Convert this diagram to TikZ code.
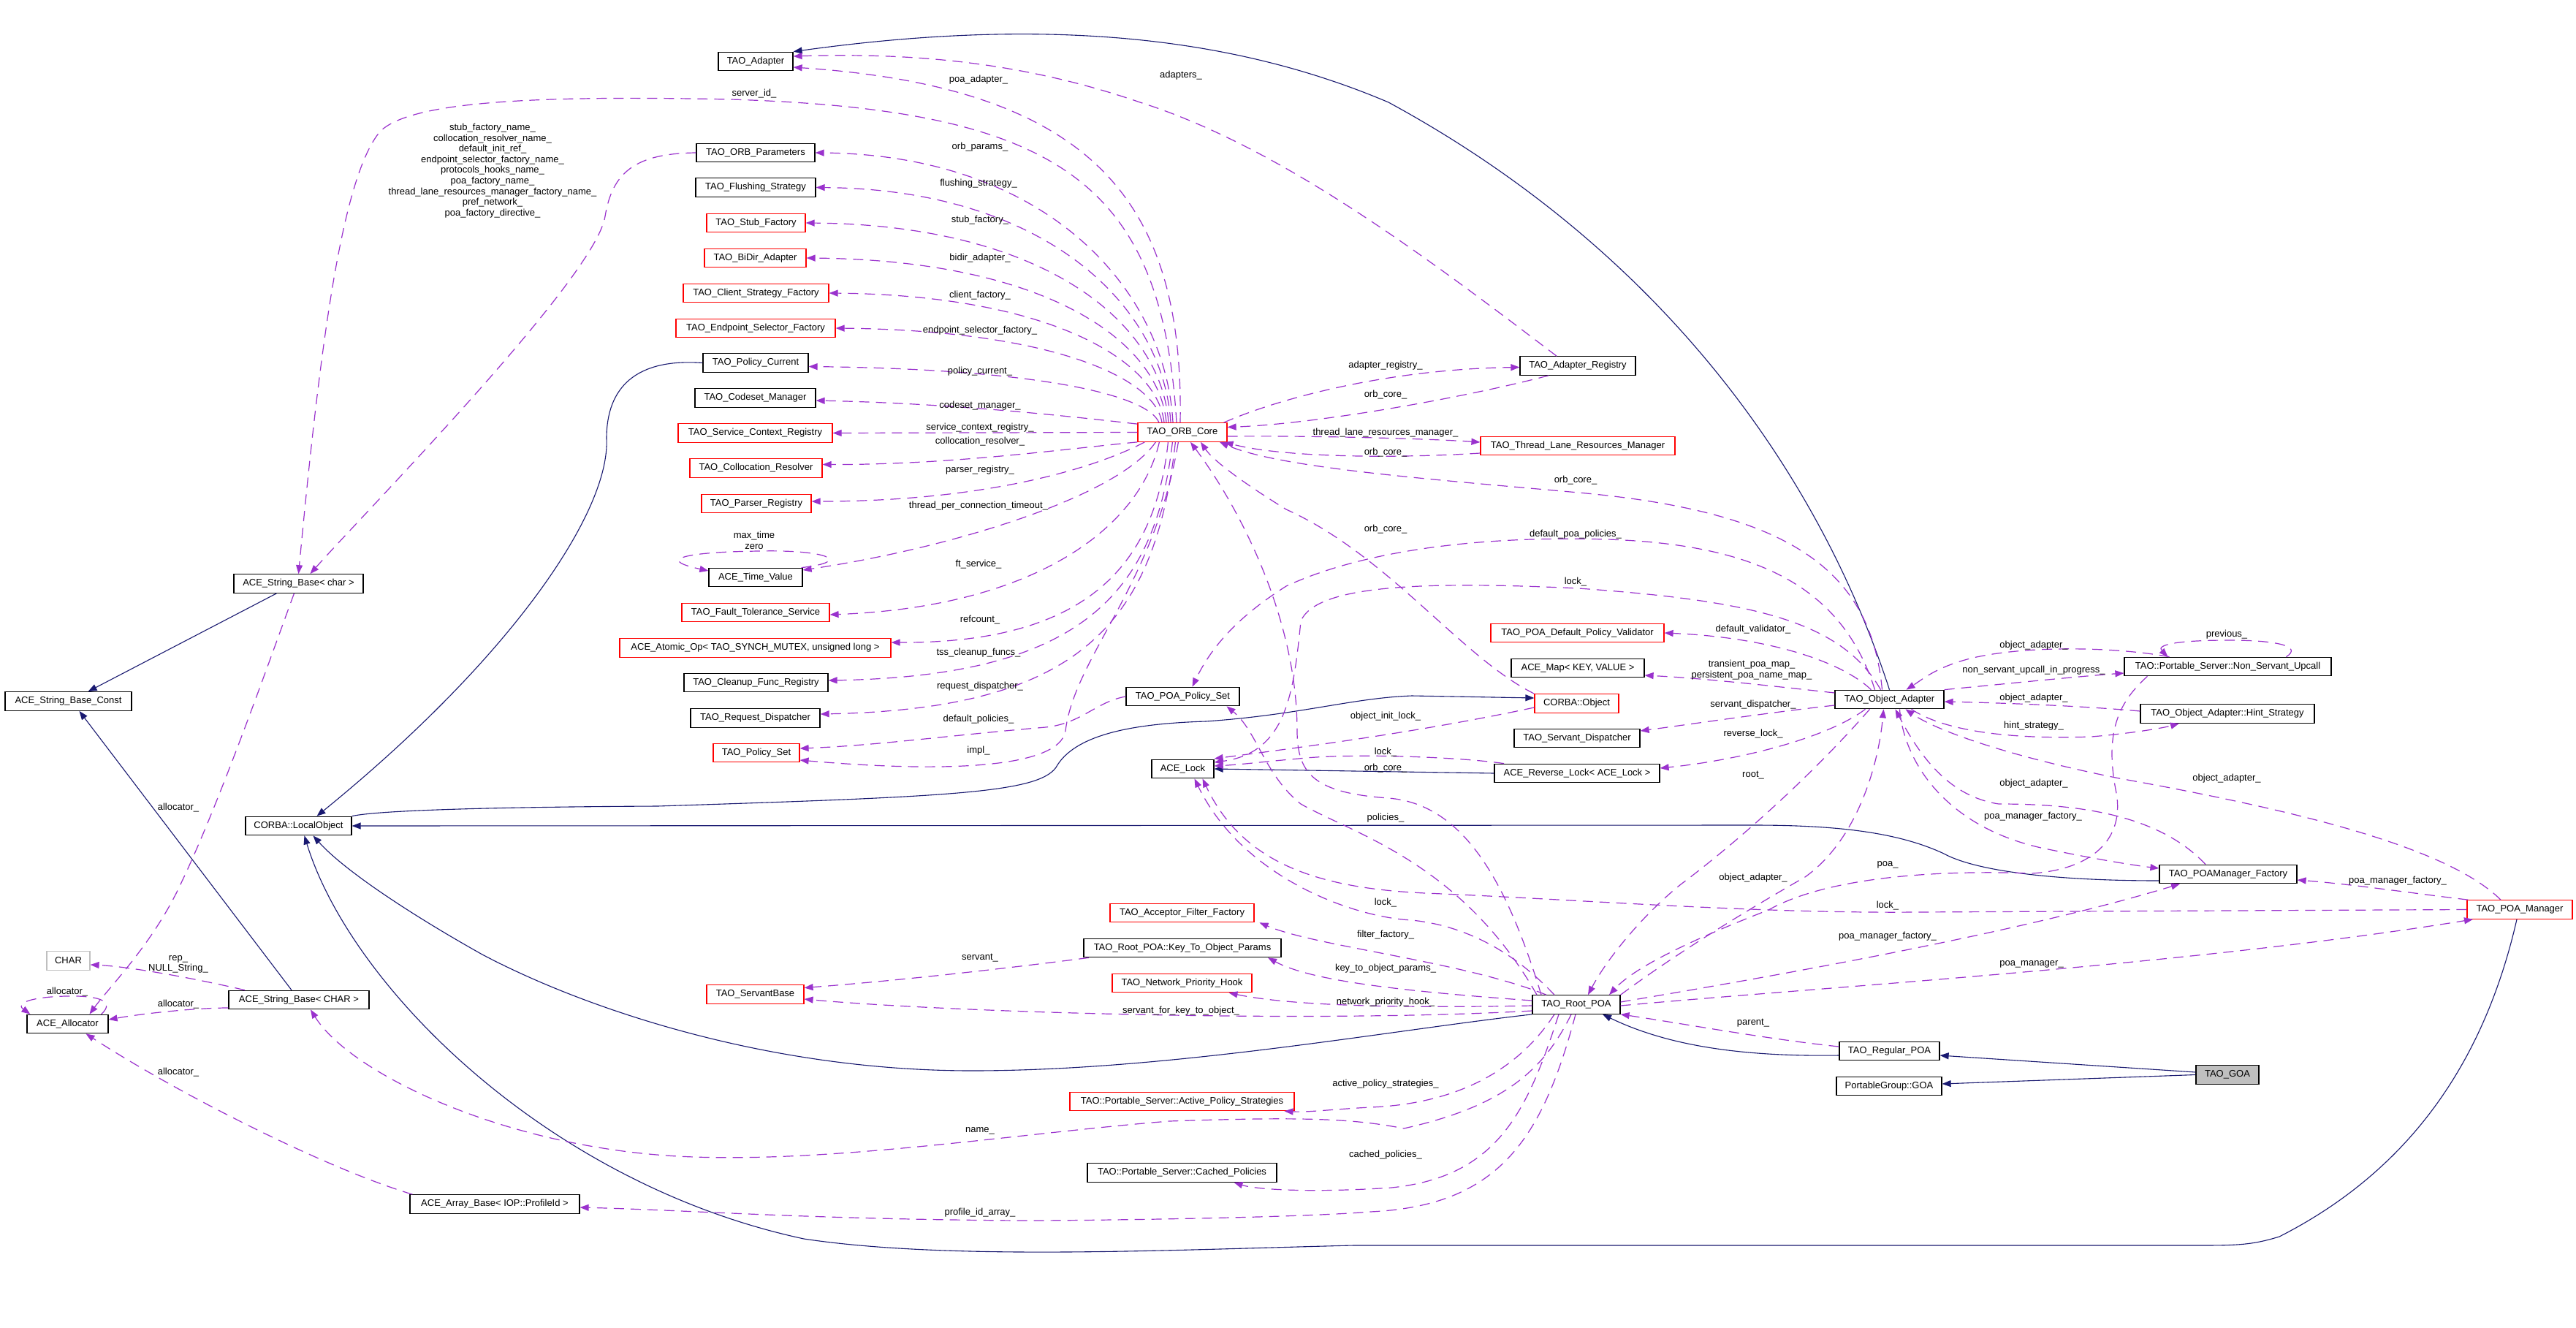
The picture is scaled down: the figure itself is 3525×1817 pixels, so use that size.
\documentclass[tikz,border=0pt]{standalone}
\usepackage{fontspec}
\setmainfont{Liberation Sans}
\usetikzlibrary{arrows.meta}
\definecolor{usecol}{HTML}{9A32CD}
\definecolor{inhcol}{HTML}{191970}
\definecolor{graybox}{HTML}{BFBFBF}
\newcommand{\lblf}{\fontsize{13pt}{14.6pt}\selectfont}
\begin{document}
\begin{tikzpicture}[x=1pt,y=-1pt,
  cls/.style={draw=black, line width=1.2pt, inner sep=0pt, minimum height=25.5pt, font=\lblf, text=black},
  rcls/.style={cls, draw=red},
  gcls/.style={cls, draw=graybox},
  lab/.style={font=\lblf, inner sep=0pt, align=center, text=black},
  usee/.style={draw=usecol, line width=1.2pt, dash pattern=on 14pt off 9pt, -{Triangle[length=12pt,width=9pt]}},
  inh/.style={draw=inhcol, line width=1.1pt, -{Triangle[length=12pt,width=9pt]}}]
\fill[white] (0,0) rectangle (3525,1817);
\useasboundingbox (0,0) rectangle (3525,1817);
% ---------- nodes ----------
\node[cls, minimum width=102pt] (adapter) at (1034,84) {TAO\_Adapter};
\node[cls, minimum width=162pt] (orbparams) at (1034,209) {TAO\_ORB\_Parameters};
\node[cls, minimum width=164pt] (flush) at (1034,256.5) {TAO\_Flushing\_Strategy};
\node[rcls, minimum width=135pt] (stubf) at (1034.5,305) {TAO\_Stub\_Factory};
\node[rcls, minimum width=139pt] (bidir) at (1033.5,353) {TAO\_BiDir\_Adapter};
\node[rcls, minimum width=199pt] (clientsf) at (1034.5,401) {TAO\_Client\_Strategy\_Factory};
\node[rcls, minimum width=218pt] (endpsf) at (1034,449) {TAO\_Endpoint\_Selector\_Factory};
\node[cls, minimum width=144pt] (polcur) at (1034,496.5) {TAO\_Policy\_Current};
\node[cls, minimum width=165pt] (codeset) at (1033.5,544.5) {TAO\_Codeset\_Manager};
\node[rcls, minimum width=211pt] (scr) at (1033.5,592.5) {TAO\_Service\_Context\_Registry};
\node[rcls, minimum width=181pt] (collres) at (1034.5,640.5) {TAO\_Collocation\_Resolver};
\node[rcls, minimum width=150pt] (parser) at (1035,689) {TAO\_Parser\_Registry};
\node[cls, minimum width=128pt] (timev) at (1034,790) {ACE\_Time\_Value};
\node[rcls, minimum width=202pt] (fts) at (1034,838) {TAO\_Fault\_Tolerance\_Service};
\node[rcls, minimum width=371pt] (atomic) at (1033.5,886.5) {ACE\_Atomic\_Op< TAO\_SYNCH\_MUTEX, unsigned long >};
\node[cls, minimum width=197pt] (cleanup) at (1034.5,934) {TAO\_Cleanup\_Func\_Registry};
\node[cls, minimum width=177pt] (reqdisp) at (1033.5,982.5) {TAO\_Request\_Dispatcher};
\node[rcls, minimum width=118pt] (polset) at (1035,1030) {TAO\_Policy\_Set};
\node[cls, minimum width=177pt] (sbchar) at (408.5,798.5) {ACE\_String\_Base< char >};
\node[cls, minimum width=173pt] (sbconst) at (93.5,959.5) {ACE\_String\_Base\_Const};
\node[cls, minimum width=145pt] (localobj) at (408.5,1130) {CORBA::LocalObject};
\node[gcls, minimum width=59pt] (charn) at (93.5,1314.5) {CHAR};
\node[cls, minimum width=111pt] (alloc) at (92.5,1401) {ACE\_Allocator};
\node[cls, minimum width=192pt] (sbCHAR) at (409,1368) {ACE\_String\_Base< CHAR >};
\node[cls, minimum width=232pt] (arrbase) at (677,1647.5) {ACE\_Array\_Base< IOP::ProfileId >};
\node[rcls, minimum width=122pt] (orbcore) at (1618,591.5) {TAO\_ORB\_Core};
\node[cls, minimum width=155pt] (poapolset) at (1618.5,953) {TAO\_POA\_Policy\_Set};
\node[cls, minimum width=85pt] (acelock) at (1618.5,1052) {ACE\_Lock};
\node[rcls, minimum width=197pt] (acceptff) at (1617.5,1249) {TAO\_Acceptor\_Filter\_Factory};
\node[cls, minimum width=270pt] (k2o) at (1618,1297) {TAO\_Root\_POA::Key\_To\_Object\_Params};
\node[rcls, minimum width=191pt] (nph) at (1617.5,1345) {TAO\_Network\_Priority\_Hook};
\node[rcls, minimum width=133pt] (servantbase) at (1033.5,1360.5) {TAO\_ServantBase};
\node[rcls, minimum width=307pt] (aps) at (1617.5,1507) {TAO::Portable\_Server::Active\_Policy\_Strategies};
\node[cls, minimum width=259pt] (cached) at (1617.5,1604.5) {TAO::Portable\_Server::Cached\_Policies};
\node[cls, minimum width=158pt] (adreg) at (2159,500.5) {TAO\_Adapter\_Registry};
\node[rcls, minimum width=266pt] (tlrm) at (2159,610) {TAO\_Thread\_Lane\_Resources\_Manager};
\node[rcls, minimum width=237pt] (pdpv) at (2158.5,866) {TAO\_POA\_Default\_Policy\_Validator};
\node[cls, minimum width=182pt] (acemap) at (2159,914) {ACE\_Map< KEY, VALUE >};
\node[rcls, minimum width=115pt] (corbaobj) at (2157.5,962.5) {CORBA::Object};
\node[cls, minimum width=172pt] (servdisp) at (2158,1010) {TAO\_Servant\_Dispatcher};
\node[cls, minimum width=226pt] (revlock) at (2158,1058) {ACE\_Reverse\_Lock< ACE\_Lock >};
\node[cls, minimum width=120pt] (rootpoa) at (2157,1374.5) {TAO\_Root\_POA};
\node[cls, minimum width=149pt] (objadapter) at (2585.5,957) {TAO\_Object\_Adapter};
\node[cls, minimum width=283pt] (nsu) at (3048.5,912) {TAO::Portable\_Server::Non\_Servant\_Upcall};
\node[cls, minimum width=238pt] (hint) at (3048,976.5) {TAO\_Object\_Adapter::Hint\_Strategy};
\node[cls, minimum width=188pt] (poamf) at (3049,1196) {TAO\_POAManager\_Factory};
\node[rcls, minimum width=144pt] (poamgr) at (3448,1244.5) {TAO\_POA\_Manager};
\node[cls, minimum width=137pt] (regpoa) at (2585.5,1438) {TAO\_Regular\_POA};
\node[cls, minimum width=144pt] (pggoa) at (2585,1486) {PortableGroup::GOA};
\node[cls, minimum width=86pt, fill=graybox] (taogoa) at (3048,1470.5) {TAO\_GOA};
% ---------- inheritance ----------
\draw[inh] (objadapter.north) .. controls (2480,620) and (2250,330) .. (1900,140) .. controls (1700,55) and (1450,20) .. (adapter.north east);
\draw[inh] (polcur.west) .. controls (870,490) and (830,530) .. (830,600) .. controls (835,700) and (700,900) .. ([xshift=25pt]localobj.north);
\draw[inh] ([xshift=-30pt]sbchar.south) -- ([xshift=27pt]sbconst.north);
\draw[inh] ([xshift=-10pt]sbCHAR.north) -- ([xshift=15pt]sbconst.south);
\draw[inh] (localobj.north east) .. controls (520,1108) and (700,1104) .. (900,1103) .. controls (1300,1090) and (1420,1085) .. (1445,1050) .. controls (1470,1005) and (1550,990) .. (1650,987) .. controls (1780,978) and (1850,955) .. (1932,952) -- ([yshift=7.5pt]corbaobj.west);
\draw[inh] ([yshift=-9pt]poamf.west) .. controls (2800,1205) and (2700,1190) .. (2660,1168) .. controls (2600,1140) and (2520,1129) .. (2400,1129) -- (localobj.east);
\draw[inh] (rootpoa.south west) .. controls (1900,1410) and (1600,1465) .. (1330,1465) .. controls (1050,1465) and (800,1380) .. (660,1306) .. controls (560,1250) and (470,1190) .. ([xshift=20pt]localobj.south);
\draw[inh] ([xshift=-4pt]poamgr.south) .. controls (3400,1450) and (3300,1600) .. (3119,1692) .. controls (3080,1704) and (3060,1704) .. (3000,1704) -- (1852,1704) .. controls (1600,1710) and (1300,1725) .. (1100,1695) .. controls (750,1620) and (480,1350) .. ([xshift=8pt]localobj.south);
\draw[inh] ([yshift=-6pt]regpoa.west) .. controls (2380,1446) and (2280,1430) .. ([xshift=36pt]rootpoa.south);
\draw[inh] ([yshift=3.5pt]taogoa.west) -- ([yshift=-6pt]regpoa.east);
\draw[inh] (taogoa.west) -- ([yshift=3pt]pggoa.east);
\draw[inh] (revlock.west) -- (acelock.east);
% ---------- usage ----------
\draw[usee] ([xshift=-3pt]orbcore.north) .. controls (1620,280) and (1500,120) .. ([yshift=-8pt]adapter.east);
\draw[usee] ([xshift=-29pt]adreg.north) .. controls (1950,350) and (1750,200) .. (1560,140) .. controls (1400,85) and (1250,72) .. ([yshift=7pt]adapter.east);
\draw[usee] ([xshift=-8pt]orbcore.north) .. controls (1590,250) and (1450,150) .. (1000,136) .. controls (720,130) and (560,140) .. (520,180) .. controls (470,240) and (440,450) .. (sbchar.north);
\draw[usee] (orbparams.west) .. controls (870,210) and (838,235) .. (828,296) .. controls (815,380) and (500,700) .. ([xshift=16pt]sbchar.north);
\draw[usee] ([xshift=-13pt]orbcore.north) .. controls (1595,394) and (1430,212) .. (orbparams.east);
\draw[usee] ([xshift=-16pt]orbcore.north) .. controls (1592,418) and (1430,259) .. (flush.east);
\draw[usee] ([xshift=-19pt]orbcore.north) .. controls (1589,442) and (1430,308) .. (stubf.east);
\draw[usee] ([xshift=-22pt]orbcore.north) .. controls (1586,466) and (1430,356) .. (bidir.east);
\draw[usee] ([xshift=-25pt]orbcore.north) .. controls (1583,490) and (1430,404) .. (clientsf.east);
\draw[usee] ([xshift=-28pt]orbcore.north) .. controls (1580,514) and (1430,452) .. (endpsf.east);
\draw[usee] ([xshift=-32pt]orbcore.north) .. controls (1570,540) and (1420,505) .. ([yshift=-5pt]polcur.east);
\draw[usee] ([yshift=-2pt]orbcore.north west) .. controls (1450,568) and (1300,552) .. ([yshift=-3.5pt]codeset.east);
\draw[usee] (orbcore.west) -- (scr.east);
\draw[usee] (orbcore.south west) .. controls (1450,615) and (1300,636) .. ([yshift=5pt]collres.east);
\draw[usee] ([xshift=10pt]orbcore.south west) .. controls (1500,640) and (1350,686) .. ([yshift=3pt]parser.east);
\draw[usee] ([xshift=25pt]orbcore.south west) .. controls (1530,680) and (1300,750) .. ([yshift=10pt]timev.east);
\draw[usee] ([xshift=30pt]orbcore.south west) .. controls (1560,720) and (1420,830) .. ([yshift=-3pt]fts.east);
\draw[usee] ([xshift=42pt]orbcore.south west) .. controls (1580,780) and (1480,880) .. ([yshift=7.5pt]atomic.east);
\draw[usee] ([xshift=48pt]orbcore.south west) .. controls (1580,820) and (1470,925) .. ([yshift=3pt]cleanup.east);
\draw[usee] ([xshift=52pt]orbcore.south west) .. controls (1580,860) and (1470,970) .. ([yshift=5.5pt]reqdisp.east);
\draw[usee] ([xshift=56pt]orbcore.south west) .. controls (1580,800) and (1470,900) .. (1458,1000) .. controls (1450,1050) and (1300,1058) .. ([yshift=-10pt]polset.east);
\draw[usee] (poapolset.west) .. controls (1500,960) and (1480,990) .. (1431,995) .. controls (1300,1006) and (1200,1020) .. ([yshift=6pt]polset.east);
\draw[usee] ([xshift=-2pt]timev.north east) .. controls (1170,768) and (1130,752) .. (1040,754) .. controls (940,755) and (895,765) .. ([yshift=9pt]timev.west);
\draw[usee] ([xshift=-6pt]sbchar.south) .. controls (370,900) and (300,1100) .. (247,1210) .. controls (210,1290) and (150,1350) .. ([xshift=30pt]alloc.north);
\draw[usee] ([xshift=-10pt]alloc.north east) .. controls (160,1368) and (130,1362) .. (90,1363) .. controls (45,1364) and (20,1372) .. ([xshift=5pt]alloc.north west);
\draw[usee] ([xshift=-74pt]sbCHAR.north) .. controls (250,1335) and (170,1322) .. ([yshift=-5.5pt]charn.east);
\draw[usee] ([yshift=-11pt]sbCHAR.west) .. controls (270,1379) and (200,1386) .. ([yshift=6pt]alloc.east);
\draw[usee] ([xshift=4pt]arrbase.north west) .. controls (450,1600) and (250,1500) .. ([xshift=25pt]alloc.south);
\draw[usee] ([xshift=-7pt]rootpoa.south) .. controls (2110,1470) and (2050,1515) .. (1921,1544) .. controls (1850,1530) and (1780,1528) .. (1600,1534) .. controls (1400,1550) and (1150,1590) .. (950,1583) .. controls (700,1575) and (480,1470) .. ([xshift=16pt]sbCHAR.south);
\draw[usee] ([xshift=-1pt]rootpoa.south) .. controls (2110,1560) and (2050,1650) .. (1875,1658) .. controls (1780,1666) and (1500,1670) .. (1397,1670) .. controls (1100,1668) and (950,1656) .. ([yshift=-4.5pt]arrbase.east);
\draw[usee] ([xshift=-24pt]rootpoa.south) .. controls (2090,1520) and (2050,1610) .. (1904,1625) .. controls (1800,1632) and (1720,1628) .. ([xshift=71pt]cached.south);
\draw[usee] ([xshift=-30pt]rootpoa.south) .. controls (2080,1460) and (2000,1510) .. (1875,1515) .. controls (1820,1518) and (1790,1522) .. ([xshift=140pt]aps.south);
\draw[usee] ([yshift=-8.5pt]rootpoa.west) .. controls (1800,1400) and (1300,1385) .. ([yshift=-6.5pt]servantbase.east);
\draw[usee] ([xshift=-128pt]k2o.south) .. controls (1400,1322) and (1250,1340) .. ([yshift=9pt]servantbase.east);
\draw[usee] ([yshift=-1.5pt]rootpoa.west) .. controls (1900,1380) and (1760,1375) .. ([xshift=64pt]nph.south);
\draw[usee] ([yshift=5.5pt]rootpoa.west) .. controls (1900,1355) and (1790,1340) .. ([xshift=117pt]k2o.south);
\draw[usee] ([xshift=-41pt]rootpoa.north) .. controls (2000,1315) and (1800,1295) .. ([xshift=106pt]acceptff.south);
\draw[usee] ([xshift=-30pt]rootpoa.north) .. controls (2060,1290) and (1990,1265) .. (1932,1259) .. controls (1850,1255) and (1700,1200) .. ([xshift=16pt]acelock.south);
\draw[usee] ([yshift=6pt]regpoa.west) .. controls (2420,1422) and (2300,1400) .. (rootpoa.south east);
\draw[usee] (poamgr.west) -- (2620,1248) .. controls (2400,1250) and (2150,1230) .. (1950,1222) .. controls (1800,1215) and (1700,1180) .. ([xshift=27pt]acelock.south);
\draw[usee] ([yshift=3.5pt]rootpoa.east) .. controls (2400,1340) and (2750,1280) .. ([xshift=-66pt]poamf.south);
\draw[usee] ([yshift=-1.5pt]rootpoa.east) .. controls (2500,1350) and (3000,1320) .. ([xshift=-64pt]poamgr.south);
\draw[usee] ([xshift=2pt]poamgr.north west) .. controls (3300,1222) and (3220,1210) .. ([yshift=-8pt]poamf.east);
\draw[usee] ([xshift=-26pt]poamgr.north) .. controls (3350,1160) and (3150,1110) .. (2900,1065) .. controls (2750,1035) and (2650,1000) .. ([xshift=22pt]objadapter.south);
\draw[usee] ([xshift=-31pt]poamf.north) .. controls (2950,1110) and (2830,1100) .. (2735,1100) .. controls (2670,1090) and (2630,1040) .. ([xshift=8pt]objadapter.south);
\draw[usee] ([xshift=14pt]objadapter.south) .. controls (2605,1040) and (2660,1130) .. (2793,1160) .. controls (2870,1176) and (2920,1184) .. ([yshift=8pt]poamf.west);
\draw[usee] ([xshift=30pt]objadapter.south) .. controls (2660,1000) and (2750,1012) .. (2862,1008) .. controls (2920,1003) and (2960,996) .. ([xshift=-66pt]hint.south);
\draw[usee] ([yshift=3.5pt]hint.west) .. controls (2850,966) and (2750,962) .. ([yshift=-3pt]objadapter.east);
\draw[usee] (objadapter.north east) .. controls (2750,935) and (2850,925) .. ([yshift=-9pt]nsu.west);
\draw[usee] ([xshift=-80pt]nsu.north) .. controls (2900,886) and (2780,882) .. (2700,900) .. controls (2650,912) and (2630,930) .. ([xshift=23pt]objadapter.north);
\draw[usee] ([xshift=80pt]nsu.north) .. controls (3150,885) and (3120,876) .. (3050,876) .. controls (2980,876) and (2950,882) .. ([xshift=-82pt]nsu.north);
\draw[usee] ([xshift=-110pt]nsu.south) .. controls (2900,960) and (2880,1000) .. (2895,1080) .. controls (2910,1150) and (2860,1190) .. (2780,1195) .. controls (2650,1190) and (2500,1200) .. (2420,1245) .. controls (2330,1280) and (2240,1320) .. ([xshift=45pt]rootpoa.north);
\draw[usee] ([xshift=-27pt]objadapter.south) .. controls (2480,1060) and (2380,1150) .. (2300,1210) .. controls (2250,1250) and (2200,1310) .. ([xshift=16pt]rootpoa.north);
\draw[usee] (rootpoa.north east) .. controls (2300,1300) and (2400,1240) .. (2470,1200) .. controls (2540,1150) and (2570,1050) .. ([xshift=-8pt]objadapter.south);
\draw[usee] ([xshift=50pt]objadapter.north west) .. controls (2520,905) and (2420,872) .. (pdpv.east);
\draw[usee] ([yshift=9pt]objadapter.west) .. controls (2420,938) and (2330,928) .. ([yshift=-10pt]acemap.east);
\draw[usee] ([yshift=-8pt]objadapter.west) .. controls (2420,975) and (2320,990) .. ([yshift=10pt]servdisp.east);
\draw[usee] ([xshift=-33pt]objadapter.south) .. controls (2500,1010) and (2380,1040) .. ([yshift=7pt]revlock.east);
\draw[usee] ([xshift=-20pt]objadapter.north) .. controls (2520,800) and (2400,745) .. (2200,738) .. controls (2000,732) and (1850,760) .. (1760,802) .. controls (1700,840) and (1660,880) .. ([xshift=13pt]poapolset.north);
\draw[usee] ([xshift=-12pt]objadapter.north) .. controls (2520,850) and (2400,822) .. (2160,805) .. controls (1950,795) and (1800,800) .. (1780,850) .. controls (1770,950) and (1760,1030) .. ([yshift=9pt]acelock.east);
\draw[usee] ([yshift=-5.5pt]corbaobj.west) .. controls (1950,1000) and (1800,1020) .. ([yshift=14pt]acelock.east);
\draw[usee] ([xshift=-100pt]revlock.north) .. controls (2000,1036) and (1850,1030) .. (1777,1038) .. controls (1730,1042) and (1700,1046) .. ([yshift=4pt]acelock.east);
\draw[usee] (corbaobj.north west) .. controls (2000,900) and (1900,760) .. (1760,697) .. controls (1700,660) and (1660,630) .. ([xshift=25pt]orbcore.south);
\draw[usee] ([xshift=-10pt]objadapter.north) .. controls (2560,780) and (2450,700) .. (2160,674) .. controls (1950,655) and (1750,640) .. ([xshift=51pt]orbcore.south);
\draw[usee] ([yshift=-10pt]tlrm.west) .. controls (1900,628) and (1750,625) .. ([xshift=-4pt]orbcore.south east);
\draw[usee] ([yshift=-5.5pt]orbcore.east) .. controls (1800,596) and (1950,600) .. ([yshift=5pt]tlrm.west);
\draw[usee] ([xshift=-5pt]orbcore.north east) .. controls (1750,545) and (1900,505) .. ([yshift=-2pt]adreg.west);
\draw[usee] ([xshift=-40pt]adreg.south) .. controls (2000,545) and (1800,580) .. ([yshift=7pt]orbcore.east);
\draw[usee] ([xshift=-48pt]rootpoa.north) .. controls (2060,1200) and (2000,1100) .. (1900,1092) .. controls (1800,1085) and (1775,1060) .. (1775,1000) .. controls (1775,850) and (1700,700) .. ([xshift=11pt]orbcore.south);
\draw[usee] ([xshift=-54pt]rootpoa.north) .. controls (2000,1180) and (1850,1140) .. (1780,1100) .. controls (1730,1060) and (1720,1000) .. ([xshift=60pt]poapolset.south);
% ---------- labels ----------
\node[lab] (l1) at (1339,109) {poa\_adapter\_};
\node[lab] (l2) at (1616,103) {adapters\_};
\node[lab] (l3) at (1032,128) {server\_id\_};
\node[lab] (l4) at (674,233.5) {stub\_factory\_name\_\\collocation\_resolver\_name\_\\default\_init\_ref\_\\endpoint\_selector\_factory\_name\_\\protocols\_hooks\_name\_\\poa\_factory\_name\_\\thread\_lane\_resources\_manager\_factory\_name\_\\pref\_network\_\\poa\_factory\_directive\_};
\node[lab] (l5) at (1341,201) {orb\_params\_};
\node[lab] (l6) at (1339,251) {flushing\_strategy\_};
\node[lab] (l7) at (1341,301) {stub\_factory\_};
\node[lab] (l8) at (1341,353) {bidir\_adapter\_};
\node[lab] (l9) at (1341,404) {client\_factory\_};
\node[lab] (l10) at (1341,452) {endpoint\_selector\_factory\_};
\node[lab] (l11) at (1341,508) {policy\_current\_};
\node[lab] (l12) at (1341,555) {codeset\_manager\_};
\node[lab] (l13) at (1341,585) {service\_context\_registry\_};
\node[lab] (l14) at (1341,604) {collocation\_resolver\_};
\node[lab] (l15) at (1341,643) {parser\_registry\_};
\node[lab] (l16) at (1339,692) {thread\_per\_connection\_timeout\_};
\node[lab] (l17) at (1032,739.5) {max\_time\\zero};
\node[lab] (l18) at (1339,772) {ft\_service\_};
\node[lab] (l19) at (1341,848) {refcount\_};
\node[lab] (l20) at (1339,893) {tss\_cleanup\_funcs\_};
\node[lab] (l21) at (1341,939) {request\_dispatcher\_};
\node[lab] (l22) at (1339,984) {default\_policies\_};
\node[lab] (l23) at (1339,1027) {impl\_};
\node[lab] (l24) at (244,1105) {allocator\_};
\node[lab] (l25) at (92,1357) {allocator\_};
\node[lab] (l26) at (244,1319.5) {rep\_\\NULL\_String\_};
\node[lab] (l27) at (244,1374) {allocator\_};
\node[lab] (l28) at (244,1467) {allocator\_};
\node[lab] (l29) at (1341,1311) {servant\_};
\node[lab] (l30) at (1616,1383) {servant\_for\_key\_to\_object\_};
\node[lab] (l31) at (1341,1547) {name\_};
\node[lab] (l32) at (1341,1659) {profile\_id\_array\_};
\node[lab] (l33) at (1896,1235) {lock\_};
\node[lab] (l34) at (1896,1279) {filter\_factory\_};
\node[lab] (l35) at (1896,1325) {key\_to\_object\_params\_};
\node[lab] (l36) at (1896,1371) {network\_priority\_hook\_};
\node[lab] (l37) at (1896,1483) {active\_policy\_strategies\_};
\node[lab] (l38) at (1896,1580) {cached\_policies\_};
\node[lab] (l39) at (2399,1400) {parent\_};
\node[lab] (l40) at (2583,1239) {lock\_};
\node[lab] (l41) at (2583,1281) {poa\_manager\_factory\_};
\node[lab] (l42) at (2399,1201) {object\_adapter\_};
\node[lab] (l43) at (2780,1319) {poa\_manager\_};
\node[lab] (l44) at (3281,1205) {poa\_manager\_factory\_};
\node[lab] (l45) at (3047,868) {previous\_};
\node[lab] (l46) at (2783,883) {object\_adapter\_};
\node[lab] (l47) at (2783,917) {non\_servant\_upcall\_in\_progress\_};
\node[lab] (l48) at (2783,955) {object\_adapter\_};
\node[lab] (l49) at (2783,993) {hint\_strategy\_};
\node[lab] (l50) at (3047,1065) {object\_adapter\_};
\node[lab] (l51) at (2783,1072) {object\_adapter\_};
\node[lab] (l52) at (2782,1117) {poa\_manager\_factory\_};
\node[lab] (l53) at (1896,619) {orb\_core\_};
\node[lab] (l54) at (2156,657) {orb\_core\_};
\node[lab] (l55) at (1896,724) {orb\_core\_};
\node[lab] (l56) at (2156,731) {default\_poa\_policies\_};
\node[lab] (l57) at (2156,796) {lock\_};
\node[lab] (l58) at (2399,861) {default\_validator\_};
\node[lab] (l59) at (2397,916.5) {transient\_poa\_map\_\\persistent\_poa\_name\_map\_};
\node[lab] (l60) at (2399,964) {servant\_dispatcher\_};
\node[lab] (l61) at (1896,980) {object\_init\_lock\_};
\node[lab] (l62) at (2399,1004) {reverse\_lock\_};
\node[lab] (l63) at (1896,1029) {lock\_};
\node[lab] (l64) at (1896,1051) {orb\_core\_};
\node[lab] (l65) at (2399,1061) {root\_};
\node[lab] (l66) at (1896,1119) {policies\_};
\node[lab] (l67) at (2583,1183) {poa\_};
\node[lab] (l68) at (1896,500) {adapter\_registry\_};
\node[lab] (l69) at (1896,540) {orb\_core\_};
\node[lab] (l70) at (1896,592) {thread\_lane\_resources\_manager\_};
\end{tikzpicture}
\end{document}
